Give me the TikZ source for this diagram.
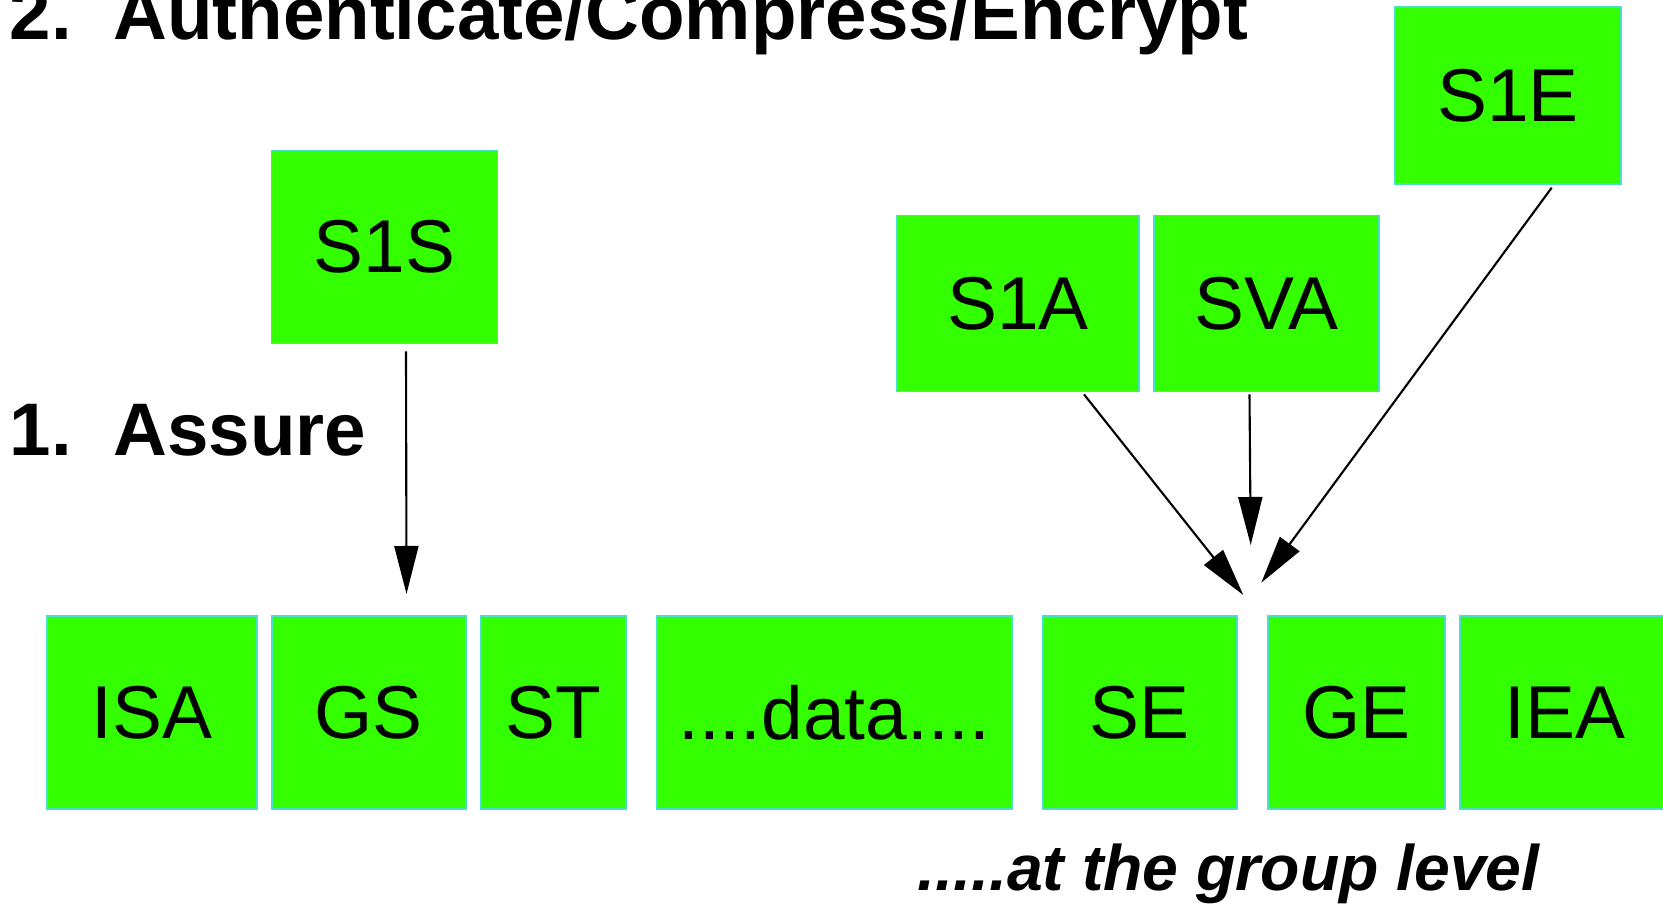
\documentclass[tikz,border=0pt]{standalone}
\usepackage{fontspec}
\setmainfont{Liberation Sans}
\usepackage{tikz}
\usetikzlibrary{arrows.meta,positioning}
\usepackage{xcolor}
\definecolor{boxgreen}{RGB}{51,255,0}
\definecolor{boxedge}{RGB}{70,225,200}
\tikzset{
  field/.style={draw=boxedge, line width=0.5pt, fill=boxgreen, inner sep=0pt, outer sep=0pt,
    minimum height=1.93cm, font=\fontsize{21.3}{25}\selectfont},
  hdr/.style={draw=boxedge, line width=0.5pt, fill=boxgreen, inner sep=0pt, outer sep=0pt,
    font=\fontsize{21.3}{25}\selectfont},
  arr/.style={-{Triangle[length=4.8mm,width=2.4mm]}, line width=0.6pt},
  steplab/.style={anchor=base west, inner sep=0pt, font=\bfseries\fontsize{21.2}{25}\selectfont},
  note/.style={anchor=base west, inner sep=0pt, font=\bfseries\itshape\fontsize{18.3}{22}\selectfont}
}
\begin{document}
\begin{tikzpicture}[x=1cm,y=1cm]
\useasboundingbox (0,0) rectangle (16.63,9.04);

% Segment row
\node[field, minimum width=2.10cm] (isa) at (1.518,1.915) {ISA};
\node[field, minimum width=1.94cm, right=0.15 of isa] (gs) {GS};
\node[field, minimum width=1.45cm, right=0.15 of gs] (st) {ST};
\node[field, minimum width=3.55cm, right=0.31 of st] (data) {....data....};
\node[field, minimum width=1.94cm, right=0.31 of data] (se) {SE};
\node[field, minimum width=1.77cm, right=0.31 of se] (ge) {GE};
\node[field, minimum width=2.10cm, right=0.15 of ge] (iea) {IEA};

% Security segments
\node[hdr, minimum width=2.26cm, minimum height=1.93cm] (s1s) at (3.845,6.57) {S1S};
\node[hdr, minimum width=2.42cm, minimum height=1.76cm] (s1a) at (10.18,6.006) {S1A};
\node[hdr, minimum width=2.25cm, minimum height=1.76cm, right=0.15 of s1a] (sva) {SVA};
\node[hdr, minimum width=2.26cm, minimum height=1.77cm] (s1e) at (15.08,8.085) {S1E};

% Arrows
\draw[arr] ([xshift=2.15mm,yshift=-0.8mm]s1s.south) -- ([xshift=3.77mm,yshift=2.2mm]gs.north);
\draw[arr] ([xshift=6.6mm,yshift=-0.3mm]s1a.south) -- ([xshift=0.65mm,yshift=2.1mm]se.north east);
\draw[arr] ([xshift=-1.7mm,yshift=-0.3mm]sva.south) -- ([xshift=1.39mm,yshift=7.1mm]se.north east);
\draw[arr] ([xshift=4.37mm,yshift=-0.37mm]s1e.south) -- ([xshift=-0.65mm,yshift=3.33mm]ge.north west);

% Labels
\node[steplab] (auth) at (0.09,8.64) {2.\hspace{0.56em}Authenticate/Compress/Encrypt};
\node[steplab] (assure) at (0.09,4.48) {1.\hspace{0.56em}Assure};
\node[note] (grp) at (9.17,0.13) {.....at the group level};
\end{tikzpicture}
\end{document}
